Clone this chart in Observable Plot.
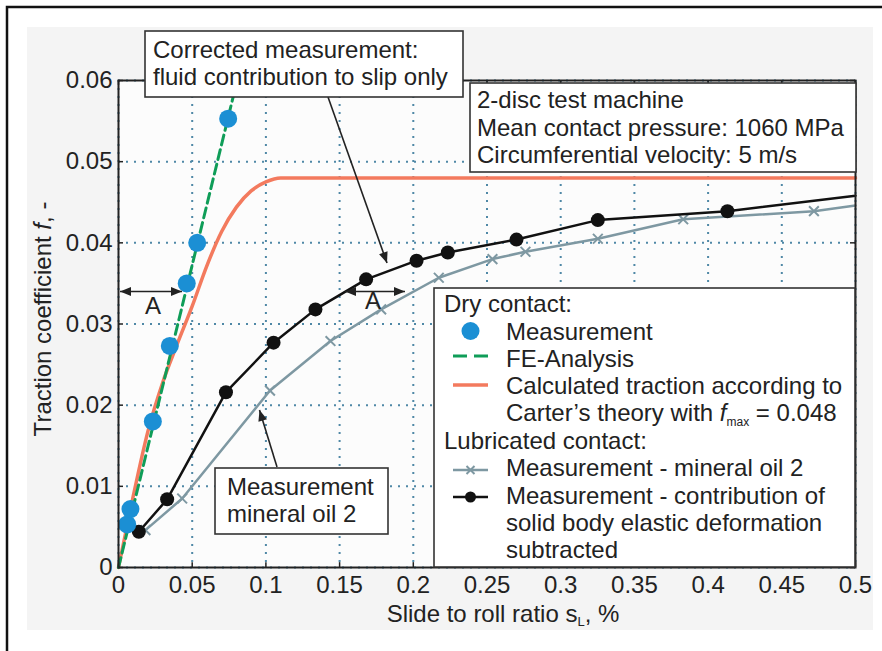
<!DOCTYPE html>
<html><head><meta charset="utf-8">
<script src="https://cdn.jsdelivr.net/npm/d3@7"></script>
<script src="https://cdn.jsdelivr.net/npm/@observablehq/plot@0.6"></script>
<style>
body{margin:0;background:#fff;}
svg{display:block;font-family:"Liberation Sans",Arial,Helvetica,sans-serif;}
</style>
</head><body><div id="chart"></div>
<script>
// ---- tick values ----
const xTicks = [0, 0.05, 0.1, 0.15, 0.2, 0.25, 0.3, 0.35, 0.4, 0.45, 0.5];
const yTicks = [0, 0.01, 0.02, 0.03, 0.04, 0.05, 0.06];

// ---- Dry contact: measurement ----
const dryX = [0.0059, 0.0081, 0.0233, 0.0348, 0.0463, 0.0534, 0.0744];
const dryY = [0.0053, 0.0072, 0.0180, 0.0273, 0.0350, 0.0400, 0.0553];

// ---- Dry contact: FE-Analysis ----
const feX = [0, 0.0805];
const feY = [0, 0.06];

// ---- Carter's theory, fmax = 0.048 ----
const carterX = [0, 0.01, 0.02, 0.03, 0.04, 0.05, 0.06, 0.07, 0.08, 0.09, 0.10, 0.11, 0.5];
const carterY = [0, 0.0088, 0.0168, 0.0228, 0.0276, 0.0322, 0.0372, 0.0414, 0.0444, 0.0464, 0.0475, 0.0480, 0.0480];

// ---- Lubricated: measurement - mineral oil 2 ----
const oilX = [0.0183, 0.0432, 0.1028, 0.1438, 0.1782, 0.2173, 0.2537, 0.2761, 0.3252, 0.3831, 0.4718, 0.5];
const oilY = [0.0046, 0.0085, 0.0218, 0.0279, 0.0318, 0.0357, 0.0380, 0.0389, 0.0405, 0.0429, 0.0439, 0.0446];
const oilMarked = [1,1,1,1,1,1,1,1,1,1,1,0];

// ---- Lubricated: contribution of elastic deformation subtracted ----
const corrX = [0.0138, 0.0330, 0.0729, 0.1052, 0.1336, 0.1680, 0.2022, 0.2234, 0.2700, 0.3252, 0.4131, 0.5];
const corrY = [0.0044, 0.0084, 0.0216, 0.0277, 0.0318, 0.0355, 0.0378, 0.0388, 0.0404, 0.0428, 0.0439, 0.0458];
const corrMarked = [1,1,1,1,1,1,1,1,1,1,1,0];

const toPts = (xs, ys) => xs.map((x, i) => ({x, y: ys[i], i}));
const dry = toPts(dryX, dryY);
const fe = toPts(feX, feY);
const carter = toPts(carterX, carterY);
const oil = toPts(oilX, oilY);
const corr = toPts(corrX, corrY);

const C = {
  blue: "#1b8fd4", green: "#0f9d58", orange: "#f37a5e",
  gray: "#7e98a2", black: "#111111", grid: "#4f88a6", ink: "#222222"
};
const FONT = 24;

const plot = Plot.plot({
  width: 882, height: 651,
  marginLeft: 118, marginRight: 27, marginTop: 80, marginBottom: 84,
  x: {domain: [0, 0.5]},
  y: {domain: [0, 0.06]},
  style: {fontFamily: '"Liberation Sans", Arial, sans-serif', fontSize: FONT + "px", color: C.ink, background: "transparent", overflow: "visible"},
  marks: [
    Plot.gridX(xTicks, {stroke: C.grid, strokeOpacity: 1, strokeWidth: 2, strokeDasharray: "2,6"}),
    Plot.gridY(yTicks, {stroke: C.grid, strokeOpacity: 1, strokeWidth: 2, strokeDasharray: "2,6"}),
    Plot.line(carter, {x: "x", y: "y", stroke: C.orange, strokeWidth: 3.5, curve: "monotone-x"}),
    Plot.line(fe, {x: "x", y: "y", stroke: C.green, strokeWidth: 3, strokeDasharray: "10,5"}),
    Plot.line(oil, {x: "x", y: "y", stroke: C.gray, strokeWidth: 2.5}),
    Plot.dot(oil.filter(d => oilMarked[d.i]), {x: "x", y: "y", symbol: "times", r: 4.5, stroke: C.gray, strokeWidth: 2}),
    Plot.line(corr, {x: "x", y: "y", stroke: C.black, strokeWidth: 2.5}),
    Plot.dot(corr.filter(d => corrMarked[d.i]), {x: "x", y: "y", r: 7, fill: C.black}),
    Plot.dot(dry, {x: "x", y: "y", r: 9, fill: C.blue}),
    Plot.axisX(xTicks, {tickSize: 0, tickPadding: 8, tickFormat: d => String(d), label: null, fontSize: FONT}),
    Plot.axisY(yTicks, {tickSize: 0, tickPadding: 6, tickFormat: d => String(d), label: null, fontSize: FONT}),
    Plot.ruleX(xTicks, {y1: 0, y2: 0.0006, stroke: C.ink, strokeWidth: 1.5}),
    Plot.ruleX(xTicks, {y1: 0.06, y2: 0.0594, stroke: C.ink, strokeWidth: 1.5}),
    Plot.ruleY(yTicks, {x1: 0, x2: 0.0034, stroke: C.ink, strokeWidth: 1.5}),
    Plot.ruleY(yTicks, {x1: 0.5, x2: 0.4966, stroke: C.ink, strokeWidth: 1.5}),
    Plot.frame({stroke: C.ink, strokeWidth: 2})
  ]
});

document.getElementById("chart").appendChild(plot);
const svg = d3.select(plot);

// background panel & outer border
const bg = svg.insert("g", ":first-child");
bg.append("rect").attr("x", 0).attr("y", 0).attr("width", 882).attr("height", 651).attr("fill", "#ffffff");
bg.append("rect").attr("x", 27).attr("y", 27).attr("width", 846).attr("height", 603).attr("fill", "#f4f4f4");
bg.append("rect").attr("x", 118).attr("y", 80).attr("width", 737).attr("height", 487).attr("fill", "#fcfcfc");

const ov = svg.append("g").attr("fill", C.ink).style("font-size", FONT + "px");
ov.append("path").attr("d", "M7,651 V7 H882").attr("fill", "none").attr("stroke", "#111").attr("stroke-width", 2.5);

function arrowHead(x, y, angle) {
  const L = 11, W = 4.5;
  const ca = Math.cos(angle), sa = Math.sin(angle);
  const bx = x - L * ca, by = y - L * sa;
  const p = [[x, y], [bx - W * sa, by + W * ca], [bx + W * sa, by - W * ca]];
  ov.append("path").attr("d", "M" + p.map(q => q.join(",")).join("L") + "Z").attr("fill", C.ink);
}
function arrow(x1, y1, x2, y2, both) {
  ov.append("line").attr("x1", x1).attr("y1", y1).attr("x2", x2).attr("y2", y2)
    .attr("stroke", C.ink).attr("stroke-width", 1.6);
  const a = Math.atan2(y2 - y1, x2 - x1);
  arrowHead(x2, y2, a);
  if (both) arrowHead(x1, y1, a + Math.PI);
}
function box(x, y, w, h) {
  ov.append("rect").attr("x", x).attr("y", y).attr("width", w).attr("height", h)
    .attr("fill", "#ffffff").attr("stroke", "#333").attr("stroke-width", 1.6);
}
function text(x, y, s, anchor) {
  return ov.append("text").attr("x", x).attr("y", y).attr("text-anchor", anchor || "start").text(s);
}

// A arrows
arrow(120, 291.5, 182, 291.5, true);
text(153, 314, "A", "middle");
arrow(345, 291.5, 405, 291.5, true);
text(373, 309, "A", "middle");

// Corrected measurement box + arrow
arrow(328, 97, 387, 263, false);
box(145, 31, 318, 66);
text(153, 58, "Corrected measurement:");
text(153, 85, "fluid contribution to slip only");

// Test conditions box
box(470, 83, 386, 89);
text(477, 108, "2-disc test machine");
text(477, 136, "Mean contact pressure: 1060 MPa");
text(477, 163, "Circumferential velocity: 5 m/s");

// Mineral oil annotation
arrow(277, 467, 259.5, 410, false);
box(215, 468, 173, 66);
text(227, 495, "Measurement");
text(227, 522, "mineral oil 2");

// Legend
box(434, 288, 421, 279);
text(444, 312, "Dry contact:");
ov.append("circle").attr("cx", 470.5).attr("cy", 331).attr("r", 9).attr("fill", C.blue);
text(506, 339.5, "Measurement");
ov.append("line").attr("x1", 453).attr("x2", 488).attr("y1", 356).attr("y2", 356).attr("stroke", C.green).attr("stroke-width", 3).attr("stroke-dasharray", "14,7");
text(506, 366.5, "FE-Analysis");
ov.append("line").attr("x1", 453).attr("x2", 488).attr("y1", 385).attr("y2", 385).attr("stroke", C.orange).attr("stroke-width", 3.5);
text(506, 393.5, "Calculated traction according to");
const t1 = text(506, 420.5, "Carter\u2019s theory with ");
t1.append("tspan").attr("font-style", "italic").text("f");
t1.append("tspan").attr("font-size", "12px").attr("dy", 5).text("max");
t1.append("tspan").attr("dy", -5).text(" = 0.048");
text(444, 448.5, "Lubricated contact:");
ov.append("line").attr("x1", 453).attr("x2", 488).attr("y1", 470).attr("y2", 470).attr("stroke", C.gray).attr("stroke-width", 2.5);
ov.append("path").attr("d", "M466.5,466 L474.5,474 M466.5,474 L474.5,466").attr("stroke", C.gray).attr("stroke-width", 2);
text(506, 476, "Measurement - mineral oil 2");
ov.append("line").attr("x1", 453).attr("x2", 488).attr("y1", 497).attr("y2", 497).attr("stroke", C.black).attr("stroke-width", 2.5);
ov.append("circle").attr("cx", 470.5).attr("cy", 497).attr("r", 5.5).attr("fill", C.black);
text(506, 503.5, "Measurement - contribution of");
text(506, 530.5, "solid body elastic deformation");
text(506, 558, "subtracted");

// Axis titles
const xt = text(503, 622, "Slide to roll ratio s", "middle");
xt.append("tspan").attr("font-size", "13px").attr("dy", 4).text("L");
xt.append("tspan").attr("dy", -4).text(", %");
const yt = ov.append("text").attr("transform", "translate(43,319) rotate(-90)").attr("text-anchor", "middle").attr("dy", "0.35em");
yt.append("tspan").text("Traction coefficient ");
yt.append("tspan").attr("font-style", "italic").text("f");
yt.append("tspan").text(", -");
</script>
</body></html>
